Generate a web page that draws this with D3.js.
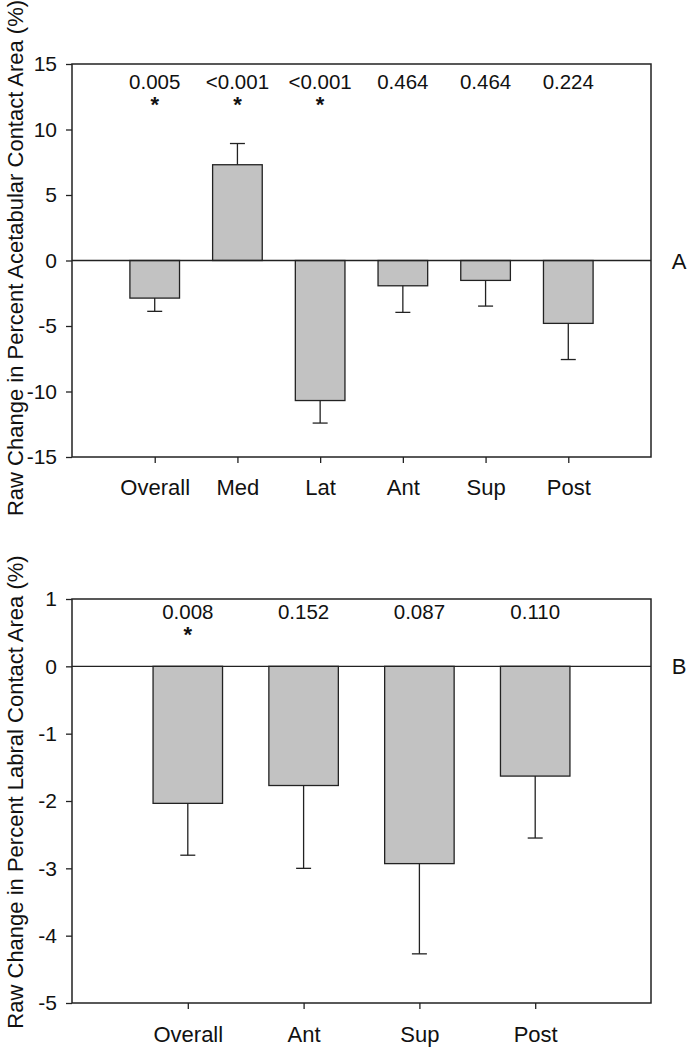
<!DOCTYPE html>
<html>
<head>
<meta charset="utf-8"/>
<script src="https://d3js.org/d3.v7.min.js"></script>
<style>
  body { margin: 0; background: #fff; }
  text { font-family: Arial, "Liberation Sans", sans-serif; fill: #111; }
</style>
</head>
<body>
<div id="v"></div>
<script type="text/javascript">
(function() {

// panel A: acetabular contact area
var catsA = ["Overall", "Med", "Lat", "Ant", "Sup", "Post"];
var meanA = [-2.87, 7.31, -10.69, -1.93, -1.52, -4.80];
var errA = [1.01, 1.62, 1.72, 2.03, 1.96, 2.76];
var pA = ["0.005", "<0.001", "<0.001", "0.464", "0.464", "0.224"];
var sigA = [true, true, true, false, false, false];
var ticksA = [15, 10, 5, 0, -5, -10, -15];

// panel B: labral contact area
var catsB = ["Overall", "Ant", "Sup", "Post"];
var meanB = [-2.035, -1.77, -2.93, -1.63];
var errB = [0.77, 1.23, 1.34, 0.92];
var pB = ["0.008", "0.152", "0.087", "0.110"];
var sigB = [true, false, false, false];
var ticksB = [1, 0, -1, -2, -3, -4, -5];

var width = 692, height = 1050;
var svg = d3.select("#v").append("svg")
  .attr("width", width)
  .attr("height", height);

function panel(opt) {
  var x = d3.scalePoint().domain(opt.cats).range([opt.left, opt.right]).padding(1);
  var y = d3.scaleLinear().domain(opt.domain).range([opt.bottom, opt.top]);
  var bw = x.step() * 0.6;
  var g = svg.append("g");

  var rows = opt.cats.map(function(c, i) {
    return { c: c, v: opt.mean[i], e: opt.err[i], p: opt.p[i], s: opt.sig[i] };
  });

  // bars
  g.selectAll(".bar").data(rows).enter()
    .append("rect")
    .attr("class", "bar")
    .attr("x", function(d) { return x(d.c) - bw / 2; })
    .attr("width", bw)
    .attr("y", function(d) { return y(Math.max(0, d.v)); })
    .attr("height", function(d) { return Math.abs(y(d.v) - y(0)); })
    .attr("fill", "#c2c2c2")
    .attr("stroke", "#222")
    .attr("stroke-width", 1.3);

  // error bars (one side, away from zero)
  function tip(d) { return y(d.v + (d.v < 0 ? -d.e : d.e)); }
  var eb = g.selectAll(".err").data(rows).enter().append("g").attr("class", "err")
    .attr("stroke", "#222").attr("stroke-width", 1.3);
  eb.append("line")
    .attr("x1", function(d) { return x(d.c); })
    .attr("x2", function(d) { return x(d.c); })
    .attr("y1", function(d) { return y(d.v); })
    .attr("y2", tip);
  eb.append("line")
    .attr("x1", function(d) { return x(d.c) - 7.5; })
    .attr("x2", function(d) { return x(d.c) + 7.5; })
    .attr("y1", tip)
    .attr("y2", tip);

  // zero line
  g.append("line")
    .attr("x1", opt.left).attr("x2", opt.right)
    .attr("y1", y(0)).attr("y2", y(0))
    .attr("stroke", "#222").attr("stroke-width", 1.3);

  // frame
  g.append("rect")
    .attr("x", opt.left).attr("y", opt.top)
    .attr("width", opt.right - opt.left).attr("height", opt.bottom - opt.top)
    .attr("fill", "none").attr("stroke", "#222").attr("stroke-width", 1.5);

  // axes
  var ya = d3.axisLeft(y).tickValues(opt.ticks).tickSize(6).tickPadding(9)
    .tickFormat(function(d) { return String(d); });
  var yg = g.append("g").attr("transform", "translate(" + opt.left + ",0)").call(ya);
  var xa = d3.axisBottom(x).tickSize(6).tickPadding(opt.xPad);
  var xg = g.append("g").attr("transform", "translate(0," + opt.bottom + ")").call(xa);
  [yg, xg].forEach(function(a) {
    a.select(".domain").remove();
    a.selectAll(".tick line").attr("stroke", "#222").attr("stroke-width", 1.3);
    a.selectAll("text").attr("fill", "#111")
      .style("font-family", "Arial, 'Liberation Sans', sans-serif");
  });
  yg.selectAll("text").style("font-size", "21px");
  xg.selectAll("text").style("font-size", "22px");

  // p-values and stars
  g.selectAll(".pval").data(rows).enter()
    .append("text")
    .attr("class", "pval")
    .attr("x", function(d) { return x(d.c); })
    .attr("y", opt.pY)
    .attr("text-anchor", "middle")
    .style("font-size", "20.5px")
    .text(function(d) { return d.p; });
  g.selectAll(".star").data(rows.filter(function(d) { return d.s; })).enter()
    .append("text")
    .attr("class", "star")
    .attr("x", function(d) { return x(d.c); })
    .attr("y", opt.starY)
    .attr("text-anchor", "middle")
    .style("font-size", "22px")
    .style("font-weight", "bold")
    .text("*");

  // y title
  g.append("text")
    .attr("transform", "translate(23," + opt.titleY + ") rotate(-90)")
    .attr("text-anchor", "middle")
    .style("font-size", "22px")
    .text(opt.title);

  // panel letter
  g.append("text")
    .attr("x", 679).attr("y", y(0) + 8)
    .attr("text-anchor", "middle")
    .style("font-size", "22px")
    .text(opt.letter);
}

panel({ cats: catsA, mean: meanA, err: errA, p: pA, sig: sigA, ticks: ticksA,
  domain: [-15, 15], left: 72, right: 651, top: 64, bottom: 457,
  pY: 89, starY: 112, xPad: 16, titleY: 258,
  title: "Raw Change in Percent Acetabular Contact Area (%)", letter: "A" });

panel({ cats: catsB, mean: meanB, err: errB, p: pB, sig: sigB, ticks: ticksB,
  domain: [-5, 1], left: 72, right: 651, top: 599, bottom: 1003,
  pY: 619, starY: 642, xPad: 17, titleY: 792,
  title: "Raw Change in Percent Labral Contact Area (%)", letter: "B" });

})();
</script>
</body>
</html>
